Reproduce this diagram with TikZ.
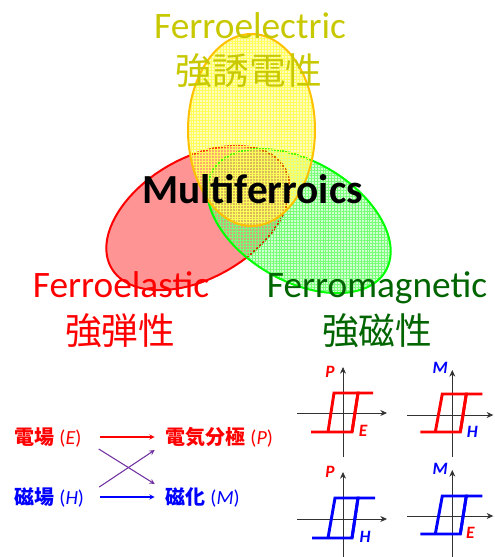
\documentclass[tikz,border=0pt]{standalone}
\usepackage{fontspec}
\setmainfont{Carlito}
\newfontfamily\jpfont{Noto Sans CJK JP}
\usetikzlibrary{patterns.meta,arrows.meta}
\definecolor{feyellow}{RGB}{200,200,0}
\definecolor{fmgreen}{RGB}{0,100,0}
\definecolor{ringorange}{RGB}{255,192,0}
\definecolor{axisgray}{RGB}{50,50,50}
\definecolor{crosspurple}{RGB}{112,48,160}
\definecolor{meshgreen}{RGB}{120,255,120}
\definecolor{meshyellow}{RGB}{255,255,90}

\begin{document}
\begin{tikzpicture}[
    x=0.75pt, y=0.75pt,
    >=stealth,
    title/.style={font=\fontsize{28}{30}\selectfont},
    jptitle/.style={font=\jpfont\fontsize{27.5}{30}\selectfont},
    relation/.style={
        anchor=west,
        inner sep=2pt,
        font=\fontsize{15}{18}\selectfont
    },
    meshfill/.style={pattern={Hatch[angle=0, distance=2.2pt, line width=0.25pt]}},
    axis/.style={-{Stealth[length=5pt,width=4.5pt]}, axisgray, line width=0.6pt},
    loop/.style={line width=2.2pt},
    axlabel/.style={font=\bfseries\itshape\fontsize{13}{15}\selectfont},
    arr/.style={->, thick}
]
    \useasboundingbox (0,0) rectangle (494,-557);

    % Venn ellipses
    \fill[red, fill opacity=0.42] (198,-218) ellipse [x radius=100, y radius=60, rotate=30];
    \draw[red, line width=1.5pt] (198,-218) ellipse [x radius=100, y radius=60, rotate=30];

    \fill[green, fill opacity=0.18] (299,-221) ellipse [x radius=100, y radius=60, rotate=-30];
    \fill[meshfill, pattern color=meshgreen, fill opacity=0.5] (299,-221) ellipse [x radius=100, y radius=60, rotate=-30];
    \draw[green, line width=1.5pt] (299,-221) ellipse [x radius=100, y radius=60, rotate=-30];

    \fill[yellow, fill opacity=0.25] (251.5,-130) ellipse [x radius=63.5, y radius=96];
    \fill[meshfill, pattern color=meshyellow, fill opacity=0.6] (251.5,-130) ellipse [x radius=63.5, y radius=96];
    \draw[ringorange, line width=1.5pt] (251.5,-130) ellipse [x radius=63.5, y radius=96];

    % Titles
    \node[title, text=feyellow, anchor=base] (fe) at (250,-38) {Ferroelectric};
    \node[jptitle, text=feyellow] (fejp) at (249,-70.5) {強誘電性};

    \node[anchor=base, font=\bfseries\fontsize{31}{33}\selectfont] (multi) at (252.5,-203) {Multiferroics};

    \node[title, text=red, anchor=base] (fel) at (121,-297) {Ferroelastic};
    \node[jptitle, text=red] (feljp) at (120,-331) {強弾性};

    \node[title, text=fmgreen, anchor=base] (fm) at (377,-297) {Ferromagnetic};
    \node[jptitle, text=fmgreen] (fmjp) at (377,-331) {強磁性};

    % Cross relations
    \node[relation, text=red] (efield) at (12,-437) {{\jpfont\bfseries 電場} (\textit{E})};
    \node[relation, text=red] (polar) at (163,-437) {{\jpfont\bfseries 電気分極} (\textit{P})};
    \node[relation, text=blue] (hfield) at (12,-497) {{\jpfont\bfseries 磁場} (\textit{H})};
    \node[relation, text=blue] (magn) at (163,-497) {{\jpfont\bfseries 磁化} (\textit{M})};

    \draw[arr, red, shorten <=11.5pt, shorten >=6.2pt] (efield.east) -- (polar.west);
    \draw[arr, blue, shorten <=10pt, shorten >=6.2pt] (hfield.east) -- (magn.west);
    \draw[arr, crosspurple] ([xshift=10.7pt,yshift=-9pt]efield.east) -- ([xshift=-6.2pt,yshift=9.75pt]magn.west);
    \draw[arr, crosspurple] ([xshift=9.2pt,yshift=7.5pt]hfield.east) -- ([xshift=-6.2pt,yshift=-9.75pt]polar.west);

    % Hysteresis loops
    \begin{scope}[shift={(343,-413)}]
        \draw[axis] (-46,0) -- (44,0);
        \draw[axis] (0,-44) -- (0,46);
        \draw[loop, red] (-32,-19) -- (9,-19) -- (15,20) -- (30,20);
        \draw[loop, red] (9,-19) -- (15,20) -- (-9,20) -- (-15,-19);
        \node[axlabel, text=red] (lblP1) at (-13,41) {P};
        \node[axlabel, text=red] (lblE1) at (20,-18) {E};
    \end{scope}

    \begin{scope}[shift={(452.3,-415)}]
        \draw[axis] (-45,0) -- (41,0);
        \draw[axis] (0,-42) -- (0,45);
        \draw[loop, red] (-32,-17) -- (8,-17) -- (14,21) -- (30,21);
        \draw[loop, red] (8,-17) -- (14,21) -- (-10,21) -- (-17,-17);
        \node[axlabel, text=blue] (lblM2) at (-12,47) {M};
        \node[axlabel, text=blue] (lblH2) at (20,-17) {H};
    \end{scope}

    \begin{scope}[shift={(343,-519)}]
        \draw[axis] (-46,0) -- (44,0);
        \draw[axis] (0,-38) -- (0,47);
        \draw[loop, blue] (-31,-19) -- (9,-19) -- (15,21) -- (32,21);
        \draw[loop, blue] (9,-19) -- (15,21) -- (-8,21) -- (-15,-19);
        \node[axlabel, text=red] (lblP3) at (-13,47) {P};
        \node[axlabel, text=blue] (lblH3) at (22,-18) {H};
    \end{scope}

    \begin{scope}[shift={(452.3,-516)}]
        \draw[axis] (-45,0) -- (41,0);
        \draw[axis] (0,-41) -- (0,46);
        \draw[loop, blue] (-32,-18) -- (8,-18) -- (14,20) -- (30,20);
        \draw[loop, blue] (8,-18) -- (14,20) -- (-10,20) -- (-17,-18);
        \node[axlabel, text=blue] (lblM4) at (-12,47) {M};
        \node[axlabel, text=red] (lblE4) at (18,-17) {E};
    \end{scope}

\end{tikzpicture}
\end{document}
